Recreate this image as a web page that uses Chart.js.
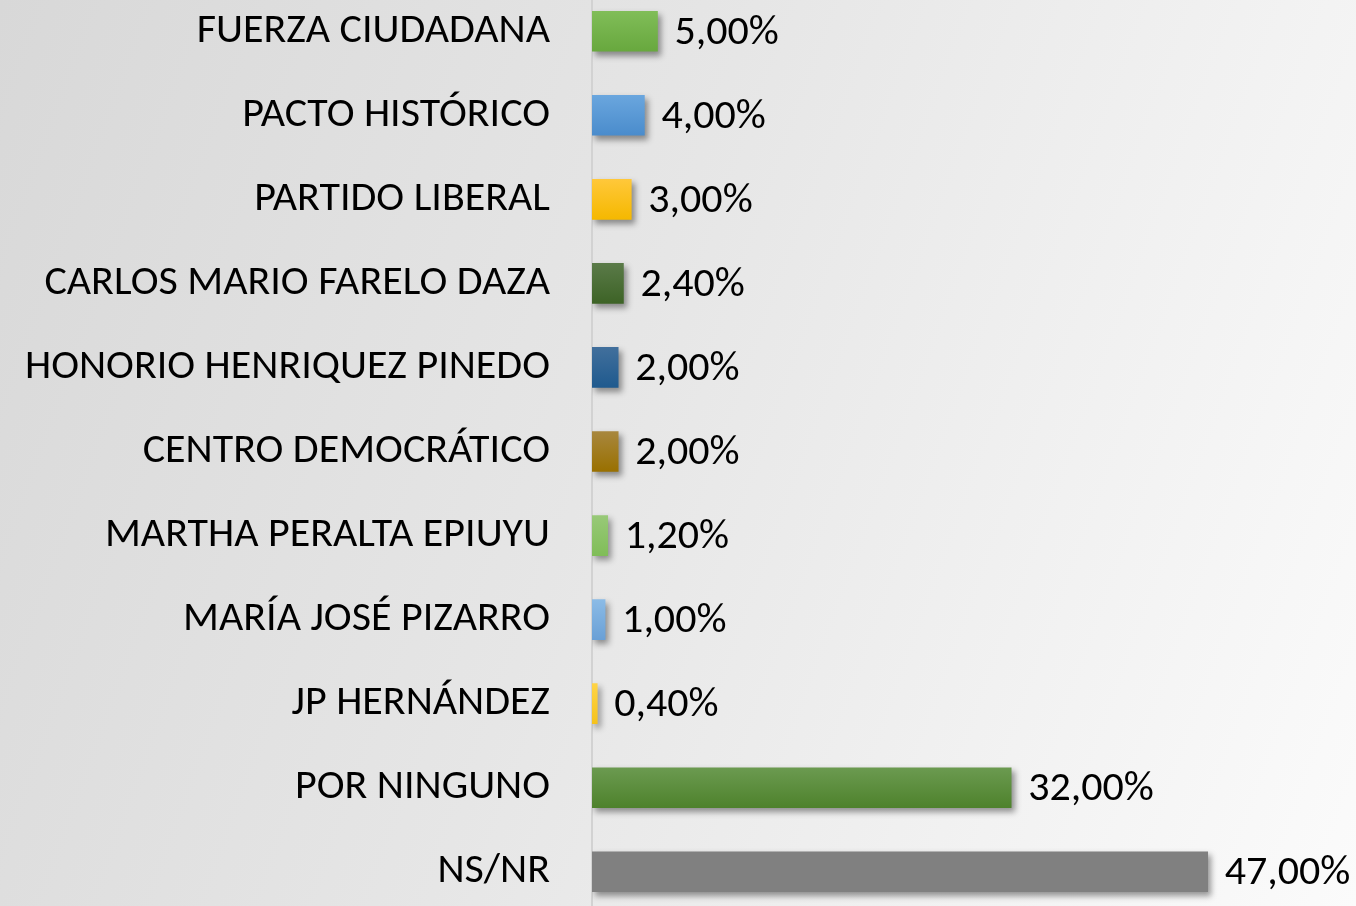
<!doctype html>
<html>

<head>
    <meta charset="utf-8">
    <script src="https://cdn.jsdelivr.net/npm/chart.js"></script>
    <style type="text/css">
        html, body {
            margin: 0;
            padding: 0;
            width: 1356px;
            height: 906px;
            overflow: hidden;
        }

        body {
            background: linear-gradient(110deg, #d8d8d8 0%, #e6e6e6 45%, #fbfbfb 100%);
        }

        /* the y scale keeps half a label + tick padding free above and below,
           so the canvas is taller than the window and pulled up */
        #wrap {
            position: absolute;
            left: 0;
            top: -78px;
            width: 1356px;
            height: 1059px;
        }
    </style>
</head>

<body>
    <div id="wrap">
        <canvas id="myChart"></canvas>
    </div>

    <script>
        const categories = [
            'FUERZA CIUDADANA',
            'PACTO HISTÓRICO',
            'PARTIDO LIBERAL',
            'CARLOS MARIO FARELO DAZA',
            'HONORIO HENRIQUEZ PINEDO',
            'CENTRO DEMOCRÁTICO',
            'MARTHA PERALTA EPIUYU',
            'MARÍA JOSÉ PIZARRO',
            'JP HERNÁNDEZ',
            'POR NINGUNO',
            'NS/NR'
        ];
        const values = [5.0, 4.0, 3.0, 2.4, 2.0, 2.0, 1.2, 1.0, 0.4, 32.0, 47.0];
        // top / bottom shade of each bar
        const topColors = ['#80bd58', '#6aa6de', '#ffc83a', '#5a7a48', '#416f9c', '#a8873e', '#98c978', '#8bbbe6', '#ffd446', '#6b9a50', '#808080'];
        const bottomColors = ['#68a83e', '#4a8ccc', '#f5b800', '#3d6326', '#1f5a8e', '#997000', '#80bd58', '#6aa0d6', '#f5c21c', '#4e822c', '#808080'];

        const FONT = 'Calibri, Carlito, Lato, sans-serif';
        const FONT_SIZE = 42;

        function barFill(context) {
            const chart = context.chart;
            const i = context.dataIndex;
            const y = chart.scales.y;
            if (!y) return bottomColors[i];
            const c = y.getPixelForValue(i);
            if (c === undefined || isNaN(c)) return bottomColors[i];
            const g = chart.ctx.createLinearGradient(0, c - 20, 0, c + 20);
            g.addColorStop(0, topColors[i]);
            g.addColorStop(1, bottomColors[i]);
            return g;
        }

        const shadowPlugin = {
            id: 'shadow',
            beforeDatasetsDraw(chart) {
                const ctx = chart.ctx;
                ctx.save();
                ctx.shadowColor = 'rgba(0,0,0,0.4)';
                ctx.shadowBlur = 6;
                ctx.shadowOffsetX = 3;
                ctx.shadowOffsetY = 4;
            },
            afterDatasetsDraw(chart) {
                chart.ctx.restore();
            }
        };

        const valueLabels = {
            id: 'valueLabels',
            afterDatasetsDraw(chart) {
                const ctx = chart.ctx;
                const meta = chart.getDatasetMeta(0);
                ctx.save();
                ctx.font = FONT_SIZE + 'px ' + FONT;
                ctx.fillStyle = '#000';
                ctx.textAlign = 'left';
                ctx.textBaseline = 'middle';
                meta.data.forEach(function (bar, i) {
                    const txt = values[i].toFixed(2).replace('.', ',') + '%';
                    ctx.fillText(txt, bar.x + 17, bar.y + 2);
                });
                ctx.restore();
            }
        };

        const ctx = document.getElementById('myChart').getContext('2d');
        const myChart = new Chart(ctx, {
            type: 'bar',
            data: {
                labels: categories,
                datasets: [{
                    data: values,
                    backgroundColor: barFill,
                    borderWidth: 0,
                    barThickness: 40
                }]
            },
            options: {
                indexAxis: 'y',
                responsive: true,
                maintainAspectRatio: false,
                animation: false,
                layout: {
                    padding: { left: 0, right: 109, top: 0, bottom: 0 }
                },
                plugins: {
                    legend: { display: false },
                    tooltip: { enabled: false }
                },
                scales: {
                    x: {
                        display: false,
                        min: 0,
                        max: 50
                    },
                    y: {
                        afterFit: function (scale) { scale.width = 592; },
                        grid: { display: false, drawTicks: false },
                        border: { display: true, color: '#d2d2d2', width: 2 },
                        ticks: {
                            padding: 42,
                            color: '#000',
                            font: { family: FONT, size: FONT_SIZE }
                        }
                    }
                }
            },
            plugins: [shadowPlugin, valueLabels]
        });
    </script>

</body>

</html>
